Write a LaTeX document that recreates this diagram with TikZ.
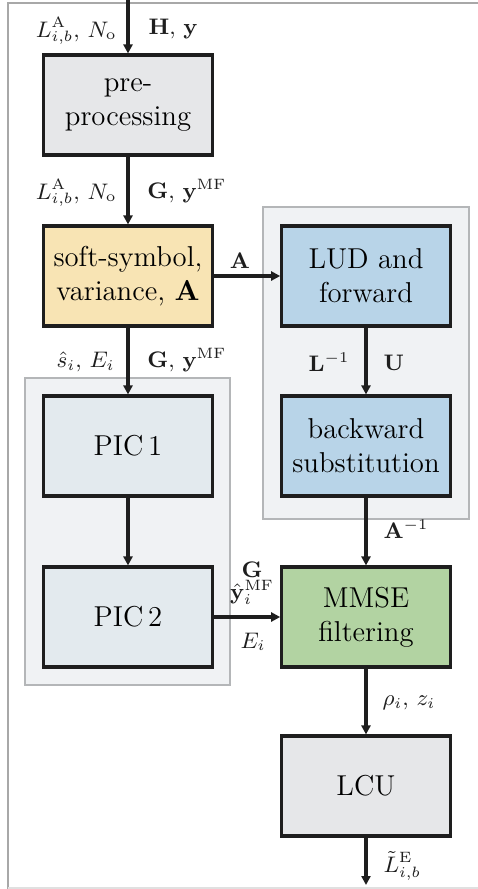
\documentclass[tikz,border=0pt]{standalone}
\usepackage{fix-cm}
\usetikzlibrary{arrows.meta}
\definecolor{framegray}{HTML}{A8A8A8}
\definecolor{panelfill}{HTML}{F0F2F4}
\definecolor{paneldraw}{HTML}{B4B6B8}
\definecolor{greyblock}{HTML}{E6E7E9}
\definecolor{yellowblock}{HTML}{F8E4B4}
\definecolor{blueblock}{HTML}{B8D4E8}
\definecolor{greenblock}{HTML}{B2D3A2}
\definecolor{picblock}{HTML}{E3EAEE}
\definecolor{linecol}{HTML}{1E1E1E}
\begin{document}
\begin{tikzpicture}[x=0.4pt,y=-0.4pt,
  font=\fontsize{11.5}{13.5}\selectfont,
  block/.style={draw=linecol,line width=1.25pt,minimum width=67.4pt,minimum height=40pt,
    align=center,inner sep=0pt},
  panel/.style={draw=paneldraw,fill=panelfill,line width=0.5pt},
  flow/.style={draw=linecol,line width=1.25pt,-{Triangle[length=3.6pt,width=3.6pt]}},
  lbl/.style={inner sep=0pt,text=linecol,font=\fontsize{9}{10}\selectfont}]
  % page
  \useasboundingbox (0,0) rectangle (478,889);
  \draw[framegray,line width=0.6pt] (8,889) -- (8,3) -- (478,3);
  \draw[black!12,line width=0.5pt] (8,888) -- (478,888);
  % grouping panels
  \draw[panel] (263,207) rectangle (469,519);
  \draw[panel] (25,378) rectangle (230,685);
  % blocks
  \node[block,fill=greyblock]   (pre)  at (128,105) {pre-\\processing};
  \node[block,fill=yellowblock] (soft) at (128,276) {soft-symbol,\\variance, $\mathbf{A}$};
  \node[block,fill=blueblock]   (lud)  at (366,276) {LUD and\\forward};
  \node[block,fill=blueblock]   (back) at (366,446) {backward\\substitution};
  \node[block,fill=picblock]    (pic1) at (128,446) {PIC\,1};
  \node[block,fill=picblock]    (pic2) at (128,617) {PIC\,2};
  \node[block,fill=greenblock]  (mmse) at (366,617) {MMSE\\filtering};
  \node[block,fill=greyblock]   (lcu)  at (366,786) {LCU};
  % free ends
  \coordinate (in)  at (128,0);
  \coordinate (out) at (366,885);
  % connectors
  \draw[flow] (in) -- (pre.north);
  \draw[flow] (pre.south) -- (soft.north);
  \draw[flow] (soft.east) -- (lud.west);
  \draw[flow] (lud.south) -- (back.north);
  \draw[flow] (soft.south) -- (pic1.north);
  \draw[flow] (pic1.south) -- (pic2.north);
  \draw[flow] (back.south) -- (mmse.north);
  \draw[flow] (pic2.east) -- (mmse.west);
  \draw[flow] (mmse.south) -- (lcu.north);
  \draw[flow] (lcu.south) -- (out);
  % labels
  \node[lbl,anchor=east] (l1a) at (117,31) {$L^{\mathrm{A}}_{i,b}$, $N_{\mathrm{o}}$};
  \node[lbl,anchor=west] (l1b) at (148,29) {$\mathbf{H}$, $\mathbf{y}$};
  \node[lbl,anchor=east] (l2a) at (117,193) {$L^{\mathrm{A}}_{i,b}$, $N_{\mathrm{o}}$};
  \node[lbl,anchor=west] (l2b) at (147,191) {$\mathbf{G}$, $\mathbf{y}^{\mathrm{MF}}$};
  \node[lbl,anchor=east] (l3a) at (115,362) {$\hat{s}_i$, $E_i$};
  \node[lbl,anchor=west] (l3b) at (147,360) {$\mathbf{G}$, $\mathbf{y}^{\mathrm{MF}}$};
  \node[lbl] (la) at (240,261) {$\mathbf{A}$};
  \node[lbl,anchor=east] (ll) at (350,362) {$\mathbf{L}^{-1}$};
  \node[lbl,anchor=west] (lu) at (383,363) {$\mathbf{U}$};
  \node[lbl,anchor=west] (lai) at (383,529) {$\mathbf{A}^{-1}$};
  \node[lbl,align=center] (lgy) at (252,583) {$\mathbf{G}$\\[-1pt]$\hat{\mathbf{y}}_i^{\mathrm{MF}}$};
  \node[lbl] (le) at (253,642) {$E_i$};
  \node[lbl,anchor=west] (lrz) at (382,703) {$\rho_i$, $z_i$};
  \node[lbl,anchor=west] (lle) at (383,866) {$\tilde{L}^{\mathrm{E}}_{i,b}$};
\end{tikzpicture}
\end{document}
